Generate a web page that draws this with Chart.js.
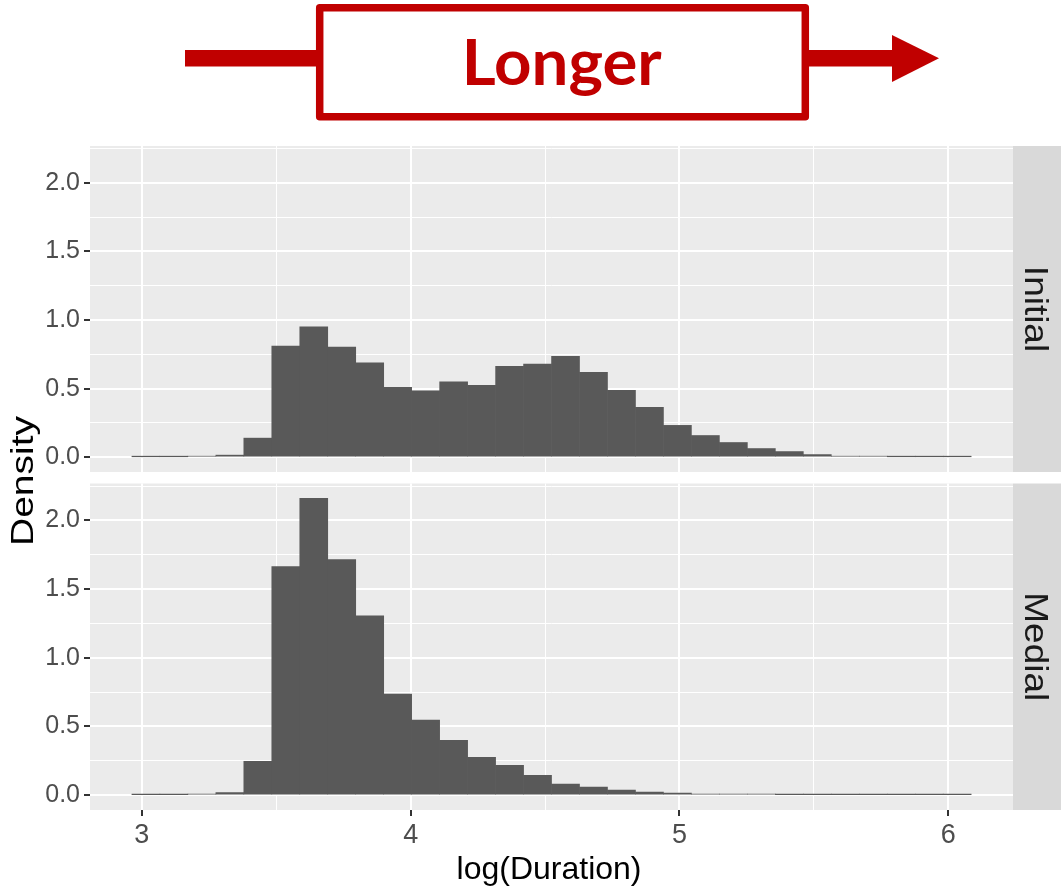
<!DOCTYPE html>
<html><head><meta charset="utf-8">
<script src="https://cdn.jsdelivr.net/npm/chart.js@4.4.1/dist/chart.umd.min.js"></script>
<style>
html,body{margin:0;padding:0;background:#fff;}
#wrap{position:relative;width:1061px;height:893px;overflow:hidden;background:#fff;}
canvas{position:absolute;left:0;}
#cA{top:0;}
#cB{top:440px;}
</style></head><body>
<div id="wrap"><canvas id="cA" width="1061" height="893"></canvas><canvas id="cB" width="1061" height="453"></canvas></div>
<script>
// ---- data ----
const binCenters = [3.0150, 3.1191, 3.2232, 3.3273, 3.4313, 3.5354, 3.6395, 3.7436, 3.8477, 3.9517,
                    4.0558, 4.1599, 4.2640, 4.3681, 4.4721, 4.5762, 4.6803, 4.7844, 4.8885, 4.9925,
                    5.0966, 5.2007, 5.3048, 5.4089, 5.5129, 5.6170, 5.7211, 5.8252, 5.9293, 6.0333];
const initialDensity = [0.003, 0.003, 0.007, 0.015, 0.139, 0.810, 0.951, 0.802, 0.688, 0.510,
                        0.483, 0.549, 0.524, 0.663, 0.679, 0.736, 0.619, 0.488, 0.363, 0.232,
                        0.158, 0.107, 0.063, 0.041, 0.019, 0.007, 0.007, 0.003, 0.003, 0.003];
const medialDensity = [0.003, 0.003, 0.007, 0.019, 0.246, 1.664, 2.161, 1.715, 1.306, 0.736,
                       0.546, 0.400, 0.275, 0.217, 0.145, 0.080, 0.058, 0.037, 0.022, 0.015,
                       0.007, 0.007, 0.007, 0.003, 0.003, 0.003, 0.003, 0.003, 0.003, 0.003];
const facetLabels = ['Initial', 'Medial'];
const xTickValues = [3, 3.5, 4, 4.5, 5, 5.5, 6];
const xMajorTicks = [3, 4, 5, 6];
const yTickValues = [0, 0.25, 0.5, 0.75, 1, 1.25, 1.5, 1.75, 2, 2.25];
const yMajorTicks = [0, 0.5, 1, 1.5, 2];
const xTitle = 'log(Duration)';
const yTitle = 'Density';
const bannerText = 'Longer';
const xRange = [2.807, 6.241];
const yRange = [-0.108, 2.269];

// ---- styling ----
const FONT = "'Liberation Sans', Arial, Helvetica, sans-serif";
const RED = '#C00000';
Chart.defaults.font.family = FONT;
const B_TOP = 440; // top of the lower canvas on the page

const panelPlugin = {
  id: 'panel',
  beforeDraw(chart) {
    const {ctx, chartArea: a} = chart;
    ctx.save();
    ctx.fillStyle = '#EBEBEB';
    ctx.fillRect(a.left, a.top, a.right - a.left, a.bottom - a.top);
    ctx.restore();
  },
  afterDraw(chart, args, opts) {
    const {ctx, chartArea: a} = chart;
    ctx.save();
    ctx.fillStyle = '#D9D9D9';
    ctx.fillRect(a.right, a.top, chart.width - a.right, a.bottom - a.top);
    ctx.translate(a.right + 12, (a.top + a.bottom) / 2);
    ctx.rotate(Math.PI / 2);
    ctx.scale(1.12, 1);
    ctx.font = '33px ' + FONT;
    ctx.fillStyle = '#1A1A1A';
    ctx.textAlign = 'center';
    ctx.textBaseline = 'alphabetic';
    ctx.fillText(opts.label, 0, 0);
    ctx.restore();

    if (opts.banner) {
      ctx.save();
      ctx.fillStyle = RED;
      ctx.fillRect(185, 50, 892 - 185, 16.5);
      ctx.beginPath();
      ctx.moveTo(892, 35); ctx.lineTo(939, 58.3); ctx.lineTo(892, 82); ctx.closePath();
      ctx.fill();
      ctx.fillStyle = '#FFFFFF';
      ctx.fillRect(319.7, 7.8, 805.3 - 319.7, 116.8 - 7.8);
      ctx.strokeStyle = RED;
      ctx.lineWidth = 7.5;
      ctx.lineJoin = 'round';
      ctx.strokeRect(319.7, 7.8, 805.3 - 319.7, 116.8 - 7.8);
      ctx.font = 'bold 64px Lato, "Open Sans", ' + FONT;
      const w = ctx.measureText(opts.banner).width;
      ctx.translate(561.7, 85);
      ctx.scale(200 / w, 1);
      ctx.fillStyle = RED;
      ctx.textAlign = 'center';
      ctx.textBaseline = 'alphabetic';
      ctx.fillText(opts.banner, 0, 0);
      ctx.restore();
    }
    if (opts.yTitle) {
      ctx.save();
      ctx.font = '32px ' + FONT;
      const w = ctx.measureText(opts.yTitle).width;
      ctx.translate(33.3, 481);
      ctx.rotate(-Math.PI / 2);
      ctx.scale(130 / w, 1);
      ctx.fillStyle = '#000000';
      ctx.textAlign = 'center';
      ctx.textBaseline = 'alphabetic';
      ctx.fillText(opts.yTitle, 0, 0);
      ctx.restore();
    }
    if (opts.xTitle) {
      ctx.save();
      ctx.font = '32px ' + FONT;
      ctx.fillStyle = '#000000';
      ctx.textAlign = 'center';
      ctx.textBaseline = 'alphabetic';
      ctx.fillText(opts.xTitle, 549, 879 - B_TOP);
      ctx.restore();
    }
  }
};

function makeChart(canvasId, values, label, isBottom) {
  return new Chart(document.getElementById(canvasId), {
    type: 'bar',
    data: {
      datasets: [{
        label: label,
        data: binCenters.map((x, i) => ({x: x, y: values[i]})),
        backgroundColor: '#595959',
        borderWidth: 0,
        barPercentage: 1,
        categoryPercentage: 1
      }]
    },
    options: {
      responsive: false,
      animation: false,
      devicePixelRatio: 1,
      layout: { padding: isBottom ? {top: 483.5 - B_TOP, bottom: 0, left: 0, right: 48}
                                  : {top: 146, bottom: 421, left: 0, right: 48} },
      plugins: {
        legend: {display: false},
        tooltip: {enabled: false},
        panel: {
          label: label,
          banner: isBottom ? null : bannerText,
          yTitle: isBottom ? null : yTitle,
          xTitle: isBottom ? xTitle : null
        }
      },
      scales: {
        x: {
          type: 'linear',
          min: xRange[0], max: xRange[1],
          offset: false,
          afterBuildTicks: s => { s.ticks = xTickValues.map(v => ({value: v})); },
          afterFit: s => { s.height = isBottom ? 83 : 0; },
          border: {display: false},
          grid: {
            offset: false,
            color: '#FFFFFF',
            lineWidth: c => xMajorTicks.includes(c.tick && c.tick.value) ? 2 : 1,
            drawTicks: isBottom,
            tickLength: 6,
            tickWidth: 2,
            tickColor: c => xMajorTicks.includes(c.tick && c.tick.value) ? '#333333' : 'rgba(0,0,0,0)'
          },
          ticks: {
            display: isBottom,
            autoSkip: false,
            maxRotation: 0,
            padding: 3,
            color: '#4D4D4D',
            font: {size: 27, family: FONT},
            callback: v => xMajorTicks.includes(v) ? String(v) : ''
          }
        },
        y: {
          type: 'linear',
          min: yRange[0], max: yRange[1],
          afterBuildTicks: s => { s.ticks = yTickValues.map(v => ({value: v})); },
          afterFit: s => { s.width = 90; },
          border: {display: false},
          grid: {
            color: '#FFFFFF',
            lineWidth: c => yMajorTicks.includes(c.tick && c.tick.value) ? 2 : 1,
            drawTicks: true,
            tickLength: 6,
            tickWidth: 2,
            tickColor: c => yMajorTicks.includes(c.tick && c.tick.value) ? '#333333' : 'rgba(0,0,0,0)'
          },
          ticks: {
            autoSkip: false,
            padding: 4,
            color: '#4D4D4D',
            font: {size: 25, family: FONT},
            callback: v => yMajorTicks.includes(v) ? v.toFixed(1) : ''
          }
        }
      }
    },
    plugins: [panelPlugin]
  });
}

makeChart('cA', initialDensity, facetLabels[0], false);
makeChart('cB', medialDensity, facetLabels[1], true);
</script>
</body></html>
